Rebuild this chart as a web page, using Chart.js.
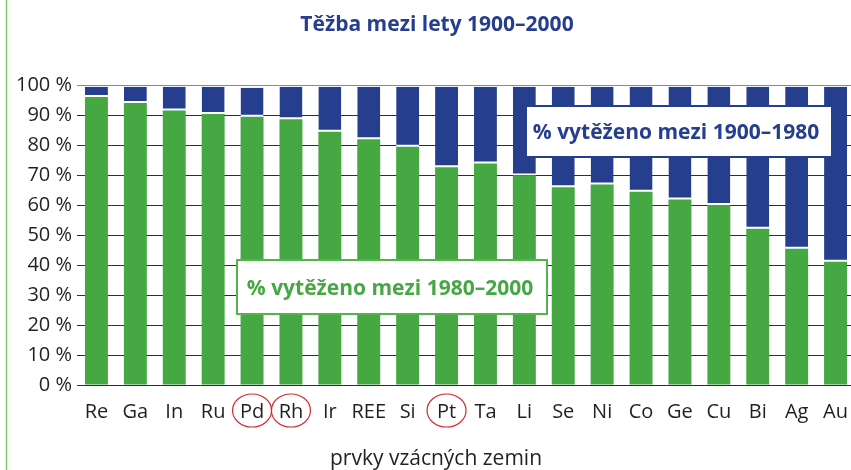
<!DOCTYPE html>
<html>
<head>
<meta charset="utf-8">
<script src="https://cdn.jsdelivr.net/npm/chart.js@4.4.1/dist/chart.umd.min.js"></script>
<style>
  html, body { margin: 0; padding: 0; background: #fff; overflow: hidden; }
  #wrap { width: 851px; height: 470px; overflow: hidden; }
</style>
</head>
<body>
<div id="wrap"><canvas id="chart" width="855" height="470"></canvas></div>
<script>
// prvky a podíly
const prvky = ['Re', 'Ga', 'In', 'Ru', 'Pd', 'Rh', 'Ir', 'REE', 'Si', 'Pt', 'Ta', 'Li', 'Se', 'Ni', 'Co', 'Ge', 'Cu', 'Bi', 'Ag', 'Au'];
const podil1980_2000 = [96, 94, 91.5, 90.3, 89.4, 88.6, 84.4, 81.9, 79.4, 72.6, 73.8, 69.8, 65.9, 66.8, 64.4, 61.8, 60, 52.1, 45.4, 41.1];
const vrchSloupce = [99.4, 99.4, 99.4, 99.4, 99.1, 99.4, 99.4, 99.4, 99.4, 99.4, 99.4, 99.4, 99.4, 99.4, 99.4, 99.4, 99.4, 99.4, 99.4, 99.4];
const podil1900_1980 = vrchSloupce.map((v, i) => +(v - podil1980_2000[i]).toFixed(1));
const zakroužkované = ['Pd', 'Rh', 'Pt'];

const nadpis = 'Těžba mezi lety 1900–2000';
const popisOsyX = 'prvky vzácných zemin';
const legendaZelena = '% vytěženo mezi 1980–2000';
const legendaModra = '% vytěženo mezi 1900–1980';

const ZELENA = '#45a843';
const MODRA = '#253e8e';
const TEXT = '#231f20';

Chart.defaults.font.family = "'Open Sans', sans-serif";

// popisky, rámečky a kroužky
const doplnky = {
  id: 'doplnky',
  afterDraw(chart) {
    const ctx = chart.ctx;
    const x = chart.scales.x;
    ctx.save();

    // zelená čára vlevo
    ctx.strokeStyle = '#7ccf62';
    ctx.lineWidth = 1.5;
    ctx.beginPath();
    ctx.moveTo(6.5, 0);
    ctx.lineTo(6.5, 470);
    ctx.stroke();

    // nadpis
    ctx.fillStyle = MODRA;
    ctx.font = "bold 21px 'Open Sans'";
    ctx.textAlign = 'center';
    ctx.textBaseline = 'alphabetic';
    ctx.fillText(nadpis, 437, 31);

    // popis osy x
    ctx.fillStyle = TEXT;
    ctx.font = "21px 'Open Sans'";
    ctx.fillText(popisOsyX, 436, 465);

    // rámeček zelený
    ctx.fillStyle = '#fff';
    ctx.fillRect(237, 260, 310, 54);
    ctx.strokeStyle = '#55b34e';
    ctx.lineWidth = 2;
    ctx.strokeRect(237, 260, 310, 54);
    ctx.fillStyle = ZELENA;
    ctx.font = "bold 21px 'Open Sans'";
    ctx.fillText(legendaZelena, 390, 295);

    // rámeček modrý
    ctx.fillStyle = '#fff';
    ctx.fillRect(526, 106, 306, 51);
    ctx.strokeStyle = MODRA;
    ctx.strokeRect(526, 106, 306, 51);
    ctx.fillStyle = MODRA;
    ctx.fillText(legendaModra, 676, 139);

    // kroužky kolem vybraných prvků
    ctx.strokeStyle = '#d42a2f';
    ctx.lineWidth = 1.2;
    zakroužkované.forEach(p => {
      const cx = x.getPixelForValue(prvky.indexOf(p));
      ctx.beginPath();
      ctx.ellipse(cx, 410.5, 19.5, 16.5, 0, 0, Math.PI * 2);
      ctx.stroke();
    });
    ctx.restore();
  }
};

new Chart(document.getElementById('chart'), {
  type: 'bar',
  data: {
    labels: prvky,
    datasets: [
      {
        label: legendaZelena,
        data: podil1980_2000,
        backgroundColor: ZELENA,
        borderWidth: 0,
        barPercentage: 0.59,
        categoryPercentage: 1
      },
      {
        label: legendaModra,
        data: podil1900_1980,
        backgroundColor: MODRA,
        borderColor: '#fff',
        borderWidth: { top: 0, left: 0, right: 0, bottom: 2 },
        borderSkipped: false,
        barPercentage: 0.59,
        categoryPercentage: 1
      }
    ]
  },
  options: {
    responsive: false,
    devicePixelRatio: 1,
    animation: false,
    layout: { padding: { top: 85, left: 0, right: 0, bottom: 0 } },
    plugins: {
      legend: { display: false },
      title: { display: false },
      tooltip: { enabled: false }
    },
    scales: {
      x: {
        stacked: true,
        grid: { display: false },
        border: { display: false },
        ticks: { color: TEXT, font: { size: 20 }, padding: 7, maxRotation: 0, autoSkip: false },
        afterFit: s => { s.height = 85; }
      },
      y: {
        stacked: true,
        min: 0,
        max: 100,
        border: { display: false },
        grid: {
          drawTicks: false,
          lineWidth: 1,
          color: c => (c.tick && c.tick.value === 100 ? '#8a8a8a' : '#2e2e2e')
        },
        ticks: {
          stepSize: 10,
          color: TEXT,
          font: { size: 20 },
          padding: 5,
          callback: v => v + ' %'
        },
        afterFit: s => { s.width = 77; }
      }
    }
  },
  plugins: [doplnky]
});
</script>
</body>
</html>
